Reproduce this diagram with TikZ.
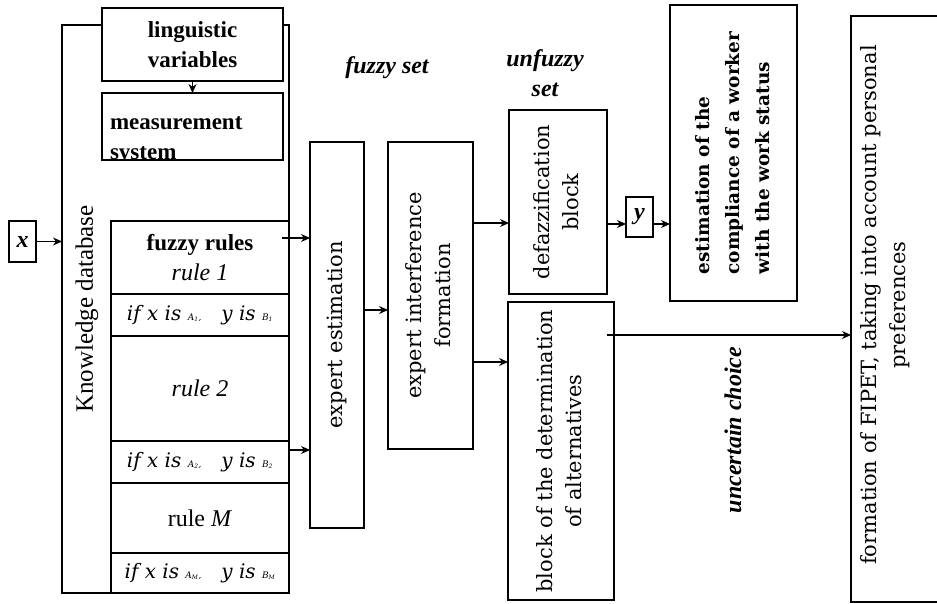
\documentclass[tikz,border=0pt]{standalone}
\usepackage{fontspec}
\usepackage{graphicx}
\setmainfont{Liberation Serif}
\newfontfamily\slabfont{DejaVu Serif}
\newfontfamily\rulefont{DejaVu Serif}
\usetikzlibrary{arrows.meta,
                positioning}

\newcommand{\vtext}[2][c]{\rotatebox{90}{\begin{tabular}{@{}#1@{}}#2\end{tabular}}}
\newcommand{\ifline}[1]{if x is {\fontsize{9}{9}\selectfont A\textsubscript{#1},}\quad y is {\fontsize{9}{9}\selectfont B\textsubscript{#1}}}

\begin{document}
\begin{tikzpicture}[x=1pt, y=-1pt,
        box/.style={draw, line width=1.2pt, fill=white, inner sep=0pt, outer sep=0pt},
        arr/.style={-{Stealth[length=9pt, width=8pt]}, line width=1.2pt},
        bfont/.style={font=\fontsize{23}{30}\selectfont\bfseries},
        kbfont/.style={font=\fontsize{25}{30}\selectfont},
        rfont/.style={font=\fontsize{24}{28}\selectfont\itshape},
        iffont/.style={font=\fontsize{20}{24}\rulefont\itshape},
        sfont/.style={font=\fontsize{21}{29}\slabfont},
        estfont/.style={font=\fontsize{18.5}{30}\slabfont\bfseries},
        tagfont/.style={font=\fontsize{24}{30}\selectfont\bfseries\itshape},
        xfont/.style={font=\fontsize{24}{24}\selectfont\bfseries\itshape}]
    \useasboundingbox (0,0) rectangle (937,604);

    \node[box, minimum width=227, minimum height=568] (kb) at (175.5,309) {};
    \node[kbfont] (kbl) at (87,309) {\rotatebox{90}{Knowledge database}};
    \node[box, bfont, minimum width=181, minimum height=73, align=center] (lv) at (192.5,44.5) {linguistic\\variables};
    \node[box, minimum width=181, minimum height=67,
        path picture={\node[bfont, align=left, text width=165] (mst) at ([yshift=-14pt]path picture bounding box.center) {measurement\\system};}] (ms) at (192.5,126.5) {};

    \node[box, bfont, minimum width=178, minimum height=73, align=center] (fr) at (200,257.5) {fuzzy rules\\{\fontsize{24}{28}\selectfont\mdseries\itshape rule 1}};
    \node[box, iffont, below=0pt of fr, minimum width=178, minimum height=42] (if1) {\ifline{1}};
    \node[box, rfont, below=0pt of if1, minimum width=178, minimum height=105] (r2) {rule 2};
    \node[box, iffont, below=0pt of r2, minimum width=178, minimum height=42] (if2) {\ifline{2}};
    \node[box, rfont, below=0pt of if2, minimum width=178, minimum height=70] (rm) {\upshape rule \textit{M}};
    \node[box, iffont, below=0pt of rm, minimum width=178, minimum height=40] (ifm) {\ifline{M}};

    \node[box, xfont, minimum width=27, minimum height=41] (xin) at (22.5,241.5) {x};

    \node[box, sfont, minimum width=54, minimum height=386] (ee) at (337,335) {\vtext{expert estimation}};
    \node[box, sfont, minimum width=85, minimum height=307] (eif) at (430.5,295.5) {\vtext{expert interference\\formation}};
    \node[box, sfont, minimum width=98, minimum height=184] (dfz) at (558,202) {\vtext{defazzification\\block}};
    \node[box, sfont, minimum width=106, minimum height=298] (bda) at (561,451) {\vtext{block of the determination\\of alternatives}};
    \node[box, xfont, minimum width=27, minimum height=40] (yout) at (639.5,217) {y};
    \node[box, estfont, minimum width=127, minimum height=296] (est) at (733.5,153) {\vtext[l]{estimation of the\\compliance of a worker\\with the work status}};
    \node[box, minimum width=120, minimum height=586, anchor=west] (fip) at (851,309) {};
    \node[sfont] (fipt) at (885,305) {\vtext{formation of FIPET, taking into account personal\\preferences}};

    \node[tagfont] (fset) at (387,68) {fuzzy set};
    \node[tagfont, align=center] (ufset) at (545,73) {unfuzzy\\set};
    \node[tagfont] (unc) at (733,430) {\rotatebox{90}{uncertain choice}};

    \draw[arr] (xin.east) -- (xin.east -| kb.west);
    \draw[arr] (lv.south) -- (ms.north);
    \coordinate (fro) at (282,238);
    \draw[arr] (fro) -- (fro -| ee.west);
    \coordinate (ifo) at (289,450);
    \draw[arr] (ifo) -- (ifo -| ee.west);
    \coordinate (eeo) at (364,310);
    \draw[arr] (eeo) -- (eeo -| eif.west);
    \coordinate (eia) at (472,223);
    \coordinate (eib) at (472,362);
    \draw[arr] (eia) -- (eia -| dfz.west);
    \draw[arr] (eib) -- (eib -| bda.west);
    \coordinate (yin) at ([yshift=-7pt]yout.west);
    \draw[arr] (yin -| dfz.east) -- (yin);
    \coordinate (yo) at ([yshift=-7pt]yout.east);
    \draw[arr] (yo) -- (yo -| est.west);
    \coordinate (cho) at (607,335);
    \draw[arr] (cho) -- (cho -| fip.west);
\end{tikzpicture}
\end{document}
